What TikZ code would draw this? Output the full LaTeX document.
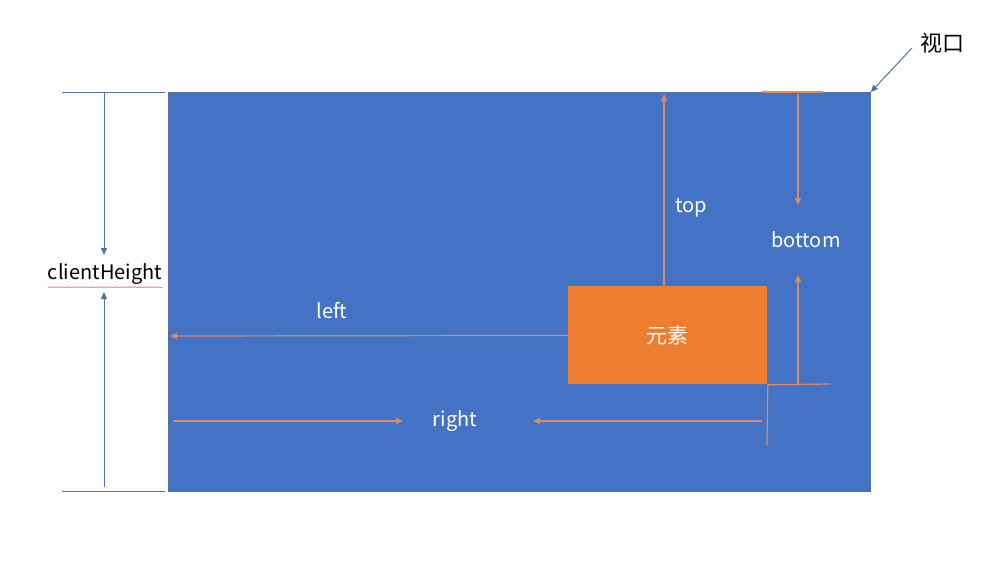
\documentclass[tikz,border=0pt]{standalone}
\usepackage{fontspec}
\setmainfont{Noto Sans CJK SC}
\usetikzlibrary{arrows.meta,decorations.pathmorphing}
\definecolor{viewblue}{RGB}{68,114,196}
\definecolor{elemorange}{RGB}{237,125,49}
\definecolor{measline}{RGB}{222,138,92}
\definecolor{dimline}{RGB}{84,112,160}
\tikzset{
  measure/.style={measline, line width=0.6pt},
  measarrow/.style={measure, -{Triangle[length=3.5pt,width=3pt]}},
  dimarrow/.style={dimline, line width=0.5pt, -{Triangle[length=3.5pt,width=3pt]}},
  lbl/.style={font=\fontsize{10}{12}\selectfont, inner sep=0pt},
}
\begin{document}
\begin{tikzpicture}[x=0.5pt,y=-0.5pt]
\useasboundingbox (0,0) rectangle (1000,585);
% viewport and element
\node[fill=viewblue, draw=dimline, line width=0.4pt, inner sep=0pt, anchor=north west,
  minimum width=351pt, minimum height=199.5pt] (view) at (168,92) {};
\node[fill=elemorange, inner sep=0pt, anchor=north west,
  minimum width=99.5pt, minimum height=49pt, text=white,
  font=\fontsize{10.5}{12}\selectfont] (elem) at (568,286) {元素};
% clientHeight
\coordinate (ht) at (62,92);
\coordinate (hb) at (62,491);
\draw[dimline, line width=0.5pt] (ht) -- (165,92);
\draw[dimline, line width=0.5pt] (hb) -- (165,491);
\node[lbl] (ch) at (105,274) {clientHeight};
\draw[dimarrow] (104,92) -- (104,255);
\draw[dimarrow] (104,487) -- (104,292);
\draw[red!60, line width=0.25pt, decorate,
  decoration={snake, amplitude=0.3pt, segment length=1.5pt}]
  ([yshift=-1.2pt]ch.south west) -- ([yshift=-1.2pt]ch.south east);
% viewport label
\node[lbl, font=\fontsize{11}{13}\selectfont] (vl) at (942,43) {视口};
\draw[dimarrow] (912,48) -- (view.north east);
% top
\draw[measarrow] (664,286) -- (664,94);
\node[lbl, text=white] (toplbl) at (691,208) {top};
% bottom
\draw[measure] (762,92) -- (823,92);
\draw[measarrow] (798,94) -- (798,205);
\node[lbl, text=white] (botlbl) at (806,240) {bottom};
\draw[measarrow] (798,384) -- (798,275);
\draw[measure] (elem.south east) -- (830,384);
% left
\draw[measarrow] (elem.west) -- (170,336);
\node[lbl, text=white] (leftlbl) at (332,311) {left};
% right
\node[lbl, text=white] (rightlbl) at (455,421) {right};
\draw[measarrow] (173,421) -- (403,421);
\draw[measarrow] (762,421) -- (533,421);
\draw[measure] (elem.south east) -- (767,445);
\end{tikzpicture}
\end{document}
